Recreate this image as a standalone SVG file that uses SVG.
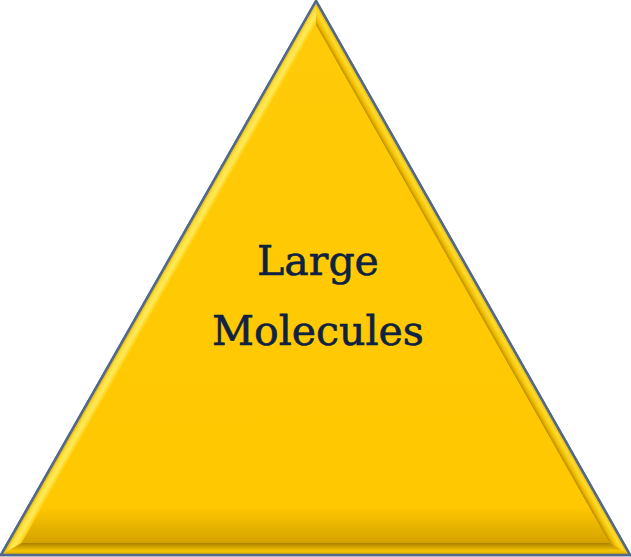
<svg xmlns="http://www.w3.org/2000/svg" width="631" height="557" viewBox="0 0 631 557">
  <defs>
    <linearGradient id="face" x1="0" y1="25" x2="0" y2="543" gradientUnits="userSpaceOnUse">
      <stop offset="0" stop-color="#FFCA08"/>
      <stop offset="0.93" stop-color="#FFC800"/>
      <stop offset="1" stop-color="#D4A200"/>
    </linearGradient>
    <linearGradient id="bevL" x1="158.5" y1="278" x2="168.9" y2="283.9" gradientUnits="userSpaceOnUse">
      <stop offset="0" stop-color="#D8A600"/>
      <stop offset="0.3" stop-color="#FFE03A"/>
      <stop offset="0.6" stop-color="#FFE95C"/>
      <stop offset="1" stop-color="#FFCC00"/>
    </linearGradient>
    <linearGradient id="bevR" x1="473" y1="278" x2="462.6" y2="283.9" gradientUnits="userSpaceOnUse">
      <stop offset="0" stop-color="#E8B500"/>
      <stop offset="0.35" stop-color="#FFDC30"/>
      <stop offset="0.7" stop-color="#F2BE00"/>
      <stop offset="1" stop-color="#B88C00"/>
    </linearGradient>
    <linearGradient id="bevB" x1="0" y1="555" x2="0" y2="543" gradientUnits="userSpaceOnUse">
      <stop offset="0" stop-color="#D9A700"/>
      <stop offset="0.35" stop-color="#F5C400"/>
      <stop offset="0.75" stop-color="#C99A00"/>
      <stop offset="1" stop-color="#A88000"/>
    </linearGradient>
    <style>
      .lbl { font-family: "DejaVu Serif", "Liberation Serif", serif; font-size: 41px; fill: #0E2244; stroke: #0E2244; stroke-width: 0.6px; text-anchor: middle; }
    </style>
  </defs>
  <g id="node-triangle">
    <polygon points="316,1 1,555 630,555" fill="#FFC800" stroke="#51698C" stroke-width="2.5" stroke-linejoin="miter"/>
    <polygon points="1,555 316,1 316,25.3 21.6,543" fill="url(#bevL)"/>
    <polygon points="316,1 630,555 609.4,543 316,25.3" fill="url(#bevR)"/>
    <polygon points="1,555 630,555 609.4,543 21.6,543" fill="url(#bevB)"/>
    <polygon points="316,25.3 21.6,543 609.4,543" fill="url(#face)"/>
    <polygon points="316,1 1,555 630,555" fill="none" stroke="#51698C" stroke-width="2.5"/>
    <text class="lbl" x="318" y="275">Large</text>
    <text class="lbl" x="318" y="345">Molecules</text>
  </g>
  <g id="connectors"/>
</svg>
